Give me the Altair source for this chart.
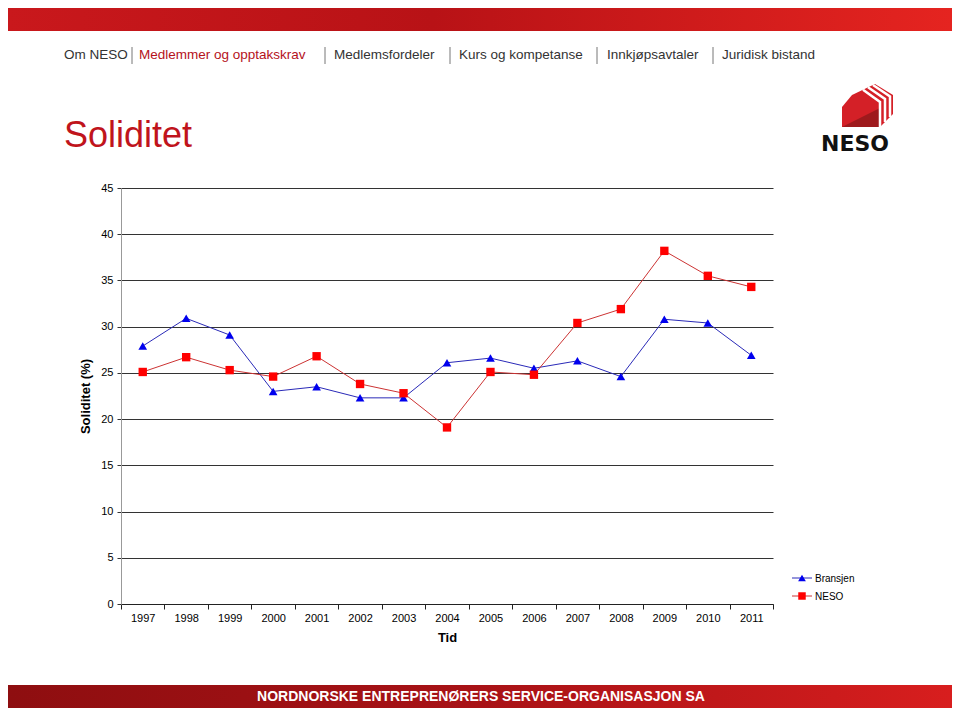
import altair as alt
import pandas as pd

# ---------------- data ----------------
years = [str(y) for y in range(1997, 2012)]
bransjen = [27.9, 30.9, 29.1, 23.0, 23.5, 22.3, 22.3, 26.1, 26.6, 25.5, 26.3, 24.6, 30.8, 30.4, 26.9]
neso = [25.1, 26.7, 25.3, 24.6, 26.8, 23.8, 22.8, 19.1, 25.1, 24.8, 30.4, 31.9, 38.2, 35.5, 34.3]
series_names = ["Bransjen", "NESO"]
y_ticks = [0, 5, 10, 15, 20, 25, 30, 35, 40, 45]
nav_items = ["Om NESO", "Medlemmer og opptakskrav", "Medlemsfordeler",
             "Kurs og kompetanse", "Innkjøpsavtaler", "Juridisk bistand"]
page_title = "Soliditet"
footer_text = "NORDNORSKE ENTREPRENØRERS SERVICE-ORGANISASJON SA"
logo_text = "NESO"
x_title = "Tid"
y_title = "Soliditet (%)"

df = pd.DataFrame({
    "year": years * 2,
    "value": bransjen + neso,
    "series": [series_names[0]] * len(years) + [series_names[1]] * len(years),
})

# ---------------- layout ----------------
OX, OY = 121, 188          # page position of plot origin
W, H = 652, 416
PAD = {"left": OX - 8, "top": OY - 8, "right": 944 - (OX - 8) - W, "bottom": 700 - (OY - 8) - H}

FONT = "Liberation Sans"
one = pd.DataFrame({"a": [0]})


def px(v):
    return alt.value(v - OX)


def py(v):
    return alt.value(v - OY)


x_enc = alt.X(
    "year:N", sort=years,
    scale=alt.Scale(type="band", paddingInner=0, paddingOuter=0),
    axis=alt.Axis(title=x_title, tickBand="extent", labelAngle=0, grid=False,
                  domainColor="#222222", tickColor="#222222", tickSize=5,
                  labelPadding=3, labelFont=FONT, labelFontSize=11, labelColor="#000000",
                  titleFont=FONT, titleFontSize=13, titleFontWeight="bold",
                  titleColor="#000000", titlePadding=8),
    bandPosition=0.5,
)
y_enc = alt.Y(
    "value:Q",
    scale=alt.Scale(domain=[0, 45], nice=False, zero=True),
    axis=alt.Axis(values=y_ticks, title=y_title, grid=True, gridColor="#333333",
                  gridWidth=1, domainColor="#999999", tickColor="#333333", tickSize=4,
                  labelPadding=4, labelFont=FONT, labelFontSize=11, labelColor="#000000",
                  titleFont=FONT, titleFontSize=13, titleFontWeight="bold",
                  titleColor="#000000", titlePadding=8),
)

base = alt.Chart(df)
styles = {
    "Bransjen": ("#2a2ab8", "#0000ee", "triangle-up", 75),
    "NESO": ("#cc3333", "#ff0000", "square", 70),
}

layers = []

# banners
top_grad = alt.LinearGradient(gradient="linear", x1=0, x2=1, y1=0, y2=0, stops=[
    alt.GradientStop(color="#c9181c", offset=0),
    alt.GradientStop(color="#b81216", offset=0.45),
    alt.GradientStop(color="#e52420", offset=1)])
bot_grad = alt.LinearGradient(gradient="linear", x1=0, x2=1, y1=0, y2=0, stops=[
    alt.GradientStop(color="#8e0e10", offset=0),
    alt.GradientStop(color="#a81216", offset=0.5),
    alt.GradientStop(color="#d81e1e", offset=1)])
layers.append(alt.Chart(one).mark_rect(color=top_grad).encode(
    x=px(8), x2=px(952), y=py(8), y2=py(31)))
layers.append(alt.Chart(one).mark_rect(color=bot_grad).encode(
    x=px(8), x2=px(952), y=py(685), y2=py(708)))
layers.append(alt.Chart(pd.DataFrame({"t": [footer_text]})).mark_text(
    font=FONT, fontSize=14, fontWeight="bold", color="#ffffff", align="center",
    baseline="middle").encode(x=px(481), y=py(697), text="t:N"))

# navigation
nav_x = [64, 139, 334, 459, 607, 722]
sep_x = [132, 325, 450, 597, 713]
for i, item in enumerate(nav_items):
    layers.append(alt.Chart(pd.DataFrame({"t": [item]})).mark_text(
        font=FONT, fontSize=13.5, color="#b5121b" if i == 1 else "#333333",
        align="left", baseline="middle").encode(x=px(nav_x[i]), y=py(55), text="t:N"))
for sx in sep_x:
    layers.append(alt.Chart(one).mark_rule(color="#777777", strokeWidth=1).encode(
        x=px(sx), y=py(47), y2=py(64)))

# page title
layers.append(alt.Chart(pd.DataFrame({"t": [page_title]})).mark_text(
    font=FONT, fontSize=36, color="#c0141c", align="left", baseline="alphabetic").encode(
    x=px(64), y=py(147), text="t:N"))

# logo
house = "M -1 0.86 L -1 0.06 L -0.6 -0.42 L 0.32 -0.86 L 1.04 -0.42 L 1.04 0.34 L 0.52 0.86 Z"
shade = "M -1 0.86 L 0.52 0.86 L 0.52 0.1 Z"
stripes = ("M -0.16 -0.63 L 0.52 -0.14 L 0.52 0.86 "
           "M 0.04 -0.73 L 0.72 -0.26 L 0.72 0.66 "
           "M 0.24 -0.82 L 0.92 -0.36 L 0.92 0.46")
layers.append(alt.Chart(one).mark_point(shape=house, filled=True, color="#d42027",
                                        opacity=1, size=2500).encode(x=px(867), y=py(105.5)))
layers.append(alt.Chart(one).mark_point(shape=shade, filled=True, color="#9e1a1d",
                                        opacity=1, size=2500).encode(x=px(867), y=py(105.5)))
layers.append(alt.Chart(one).mark_point(shape=stripes, filled=False, color="#ffffff",
                                        strokeWidth=2.5, opacity=1, size=2500).encode(
    x=px(867), y=py(105.5)))
layers.append(alt.Chart(pd.DataFrame({"t": [logo_text]})).mark_text(
    font="DejaVu Sans", fontSize=22, fontWeight="bold", color="#111111", align="center",
    baseline="middle").encode(x=px(855), y=py(144), text="t:N"))

# data series
for name in series_names:
    lc, mc, shp, sz = styles[name]
    b = base.transform_filter(alt.datum.series == name)
    layers.append(b.mark_line(color=lc, strokeWidth=1).encode(x=x_enc, y=y_enc))
    layers.append(b.mark_point(shape=shp, filled=True, color=mc, size=sz, opacity=1).encode(
        x=x_enc, y=y_enc))

# legend
for i, name in enumerate(series_names):
    lc, mc, shp, sz = styles[name]
    ly = 578 + i * 18
    layers.append(alt.Chart(one).mark_rule(color=lc, strokeWidth=1).encode(
        x=px(792), x2=px(812), y=py(ly)))
    layers.append(alt.Chart(one).mark_point(shape=shp, filled=True, color=mc, size=sz * 0.8,
                                            opacity=1).encode(x=px(802), y=py(ly)))
    layers.append(alt.Chart(pd.DataFrame({"t": [name]})).mark_text(
        font=FONT, fontSize=10, color="#000000", align="left", baseline="middle").encode(
        x=px(815), y=py(ly + 1), text="t:N"))

chart = alt.layer(*layers).properties(
    width=W, height=H, padding=PAD,
    autosize=alt.AutoSizeParams(type="none"),
    background="#ffffff",
).configure_view(stroke=None)

chart.save("out.html", embed_options={"renderer": "svg", "actions": False})
